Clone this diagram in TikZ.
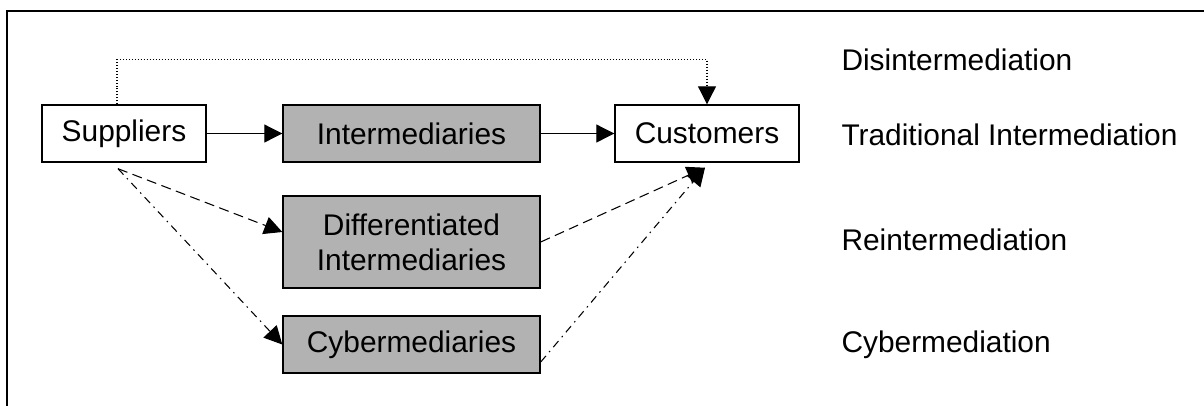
\documentclass[tikz,border=0pt]{standalone}
\usepackage{fontspec}
\setmainfont{Liberation Sans}
\usetikzlibrary{arrows.meta}
\definecolor{boxgray}{RGB}{178,178,178}

\begin{document}
\begin{tikzpicture}[>={Triangle[length=3.6mm,width=3.6mm]}, line width=0.6pt, font=\fontsize{17}{20}\selectfont]
    \tikzstyle{box}=[draw, rectangle, line width=0.8pt, minimum height=1.14cm, inner sep=0pt, align=center]
    \tikzstyle{party}=[box, fill=white];
    \tikzstyle{agent}=[box, fill=boxgray, minimum width=5.14cm];
    \tikzstyle{annot}=[anchor=west, inner sep=0pt];
    \tikzstyle{direct}=[dash pattern=on 0.5pt off 1.2pt];
    \tikzstyle{reint}=[dash pattern=on 2mm off 1.1mm];
    \tikzstyle{cyber}=[dash pattern=on 1.6mm off 1mm on 0.3mm off 1mm];

    \useasboundingbox (0,0) rectangle (24.08,-8.1);

    % Outer frame (only top and left edge fall inside the page)
    \draw[line width=1.1pt] (0.14,-8.3) -- (0.14,-0.22) -- (24.3,-0.22);

    % Draw the two ends of the chain
    \node[party, minimum width=3.28cm] (sup) at (2.48,-2.67) {Suppliers};
    \node[party, minimum width=3.68cm] (cus) at (14.14,-2.67) {Customers};

    % Draw the middle column
    \node[agent] (int) at (8.23,-2.67) {Intermediaries};
    \node[agent, minimum height=1.84cm] (dif) at (8.23,-4.84) {Differentiated\\Intermediaries};
    \node[agent] (cyb) at (8.23,-6.89) {Cybermediaries};

    % Start and end points of the slanted links
    \coordinate (src) at ([xshift=-1.2mm,yshift=-1.2mm]sup.south);
    \coordinate (dst) at ([xshift=-0.4mm,yshift=-1mm]cus.south);

    % Traditional chain
    \draw[->] (sup) -- (int);
    \draw[->] (int) -- (cus);

    % Bypass over the top
    \draw[direct,->] ([xshift=-1.4mm]sup.north) -- ++(0,0.9) -| (cus.north);

    % Reintermediation
    \draw[reint,->] (src) -- ([yshift=2mm]dif.west);
    \draw[reint,->] (dif.east) -- (dst);

    % Cybermediation
    \draw[cyber,->] (src) -- (cyb.west);
    \draw[cyber,->] ([yshift=-3.5mm]cyb.east) -- (dst);

    % Annotate the routes
    \foreach \txt / \y in {Disintermediation/-1.2, Traditional Intermediation/-2.7, Reintermediation/-4.8, Cybermediation/-6.9}
        \node[annot] at (16.82,\y) {\txt};
\end{tikzpicture}
\end{document}
